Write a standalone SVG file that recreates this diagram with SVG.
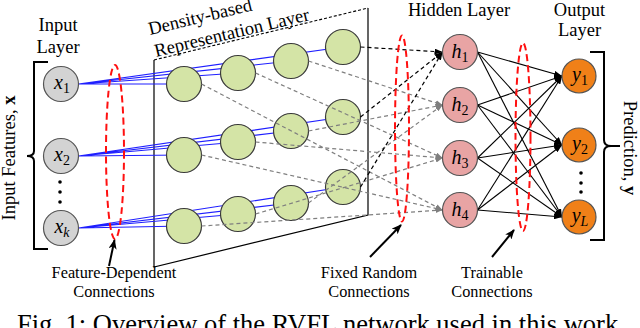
<svg xmlns="http://www.w3.org/2000/svg" width="640" height="328" viewBox="0 0 640 328">
<style>
text{font-family:"Liberation Serif","Times New Roman",serif;fill:#000}
.lbl{font-size:18.5px}
.sm{font-size:16.3px}
.nl{font-size:20px;font-style:italic}
.sub{font-size:14px;font-style:normal}
.subi{font-size:14px;font-style:italic}
.in{fill:#d3d3d3;stroke:#555;stroke-width:1.2}
.gr{fill:#d4e4a6;stroke:#3a3a3a;stroke-width:1.2}
.hd{fill:#e8a4a4;stroke:#555;stroke-width:1.2}
.out{fill:#f08018;stroke:#555;stroke-width:1.2}
.blue{stroke:#1f1fff;stroke-width:1.2;fill:none}
.gd{stroke:#7f7f7f;stroke-width:1.2;stroke-dasharray:4 3;fill:none}
.bd{stroke:#000;stroke-width:1.2;stroke-dasharray:4 3;fill:none}
.bs{stroke:#000;stroke-width:1.1;fill:none}
.red{stroke:#ff1010;stroke-width:2;stroke-dasharray:7 4;fill:none}
.brk{stroke:#000;stroke-width:2;fill:none}
.ptr{stroke:#000;stroke-width:2;fill:none}
</style>
<defs>
<marker id="ag" viewBox="0 0 8 6" refX="8" refY="3" markerWidth="7" markerHeight="5.5" orient="auto" markerUnits="userSpaceOnUse"><path d="M0,0 L8,3 L0,6 z" fill="#7f7f7f"/></marker>
<marker id="ab" viewBox="0 0 8 6" refX="8" refY="3" markerWidth="8" markerHeight="6" orient="auto" markerUnits="userSpaceOnUse"><path d="M0,0 L8,3 L0,6 z" fill="#000"/></marker>
<marker id="al" viewBox="0 0 10 8" refX="9" refY="4" markerWidth="10" markerHeight="8" orient="auto" markerUnits="userSpaceOnUse"><path d="M0,0 L10,4 L0,8 L2.5,4 z" fill="#000"/></marker>
</defs>

<g id="representation-layer-frame">
<path d="M154,60 V267 L368,215 V8" fill="none" stroke="#000" stroke-width="1.2"/>
<path d="M154,60 L368,8" fill="none" stroke="#000" stroke-width="1.1" stroke-dasharray="3 2"/>
<text class="lbl" x="150" y="35" transform="rotate(-13.5 150 35)">Density-based</text>
<text class="lbl" x="156" y="57" transform="rotate(-13.5 156 57)">Representation Layer</text>
</g>

<g id="connectors-feature-dependent">
<path class="blue" d="M78.5,84 L184,84 M78.5,84 L238,73 M78.5,84 L291,61 M78.5,84 L343,47"/>
<path class="blue" d="M78.5,156 L184,155 M78.5,156 L238,142 M78.5,156 L291,131 M78.5,156 L343,117"/>
<path class="blue" d="M78.5,228 L184,226 M78.5,228 L238,214 M78.5,228 L291,203 M78.5,228 L343,187"/>
</g>

<g id="representation-nodes">
<circle class="gr" cx="184" cy="84" r="17.5"/>
<circle class="gr" cx="238" cy="73" r="17.5"/>
<circle class="gr" cx="291" cy="61" r="17.5"/>
<circle class="gr" cx="343" cy="47" r="17.5"/>
<circle class="gr" cx="184" cy="155" r="17.5"/>
<circle class="gr" cx="238" cy="142" r="17.5"/>
<circle class="gr" cx="291" cy="131" r="17.5"/>
<circle class="gr" cx="343" cy="117" r="17.5"/>
<circle class="gr" cx="184" cy="226" r="17.5"/>
<circle class="gr" cx="238" cy="214" r="17.5"/>
<circle class="gr" cx="291" cy="203" r="17.5"/>
<circle class="gr" cx="343" cy="187" r="17.5"/>
</g>

<g id="connectors-random">
<line class="gd" x1="201.5" y1="84" x2="442.5" y2="210" marker-end="url(#ag)"/>
<line class="gd" x1="255.5" y1="73" x2="442.5" y2="158" marker-end="url(#ag)"/>
<line class="gd" x1="308.5" y1="61" x2="442.5" y2="105" marker-end="url(#ag)"/>
<line class="gd" x1="201.5" y1="155" x2="442.5" y2="210" marker-end="url(#ag)"/>
<line class="gd" x1="255.5" y1="142" x2="442.5" y2="158" marker-end="url(#ag)"/>
<line class="gd" x1="308.5" y1="131" x2="442.5" y2="105" marker-end="url(#ag)"/>
<line class="gd" x1="201.5" y1="226" x2="442.5" y2="210" marker-end="url(#ag)"/>
<line class="gd" x1="255.5" y1="214" x2="442.5" y2="158" marker-end="url(#ag)"/>
<line class="gd" x1="308.5" y1="203" x2="442.5" y2="105" marker-end="url(#ag)"/>
<line class="bd" x1="360.5" y1="47" x2="442.5" y2="52" marker-end="url(#ab)"/>
<line class="bd" x1="360.5" y1="117" x2="442.5" y2="52" marker-end="url(#ab)"/>
<line class="bd" x1="360.5" y1="187" x2="442.5" y2="52" marker-end="url(#ab)"/>
</g>

<g id="connectors-trainable">
<line class="bs" x1="477.5" y1="52" x2="562" y2="76" marker-end="url(#ab)"/>
<line class="bs" x1="477.5" y1="52" x2="562" y2="145" marker-end="url(#ab)"/>
<line class="bs" x1="477.5" y1="52" x2="562" y2="217" marker-end="url(#ab)"/>
<line class="bs" x1="477.5" y1="105" x2="562" y2="76" marker-end="url(#ab)"/>
<line class="bs" x1="477.5" y1="105" x2="562" y2="145" marker-end="url(#ab)"/>
<line class="bs" x1="477.5" y1="105" x2="562" y2="217" marker-end="url(#ab)"/>
<line class="bs" x1="477.5" y1="158" x2="562" y2="76" marker-end="url(#ab)"/>
<line class="bs" x1="477.5" y1="158" x2="562" y2="145" marker-end="url(#ab)"/>
<line class="bs" x1="477.5" y1="158" x2="562" y2="217" marker-end="url(#ab)"/>
<line class="bs" x1="477.5" y1="210" x2="562" y2="76" marker-end="url(#ab)"/>
<line class="bs" x1="477.5" y1="210" x2="562" y2="145" marker-end="url(#ab)"/>
<line class="bs" x1="477.5" y1="210" x2="562" y2="217" marker-end="url(#ab)"/>
</g>

<g id="group-markers">
<ellipse class="red" cx="115" cy="152" rx="9" ry="87"/>
<ellipse class="red" cx="402" cy="128.5" rx="7" ry="93"/>
<ellipse class="red" cx="523" cy="137" rx="7.5" ry="94"/>
</g>

<g id="input-layer">
<text class="lbl" x="58" y="31" text-anchor="middle">Input</text>
<text class="lbl" x="58" y="53" text-anchor="middle">Layer</text>
<g id="node-x1"><circle class="in" cx="61" cy="84" r="17.5"/><text class="nl" x="62" y="89" text-anchor="middle">x<tspan class="sub" dy="4">1</tspan></text></g>
<g id="node-x2"><circle class="in" cx="61" cy="156" r="17.5"/><text class="nl" x="62" y="161" text-anchor="middle">x<tspan class="sub" dy="4">2</tspan></text></g>
<g id="input-dots" fill="#000"><circle cx="60" cy="182" r="1.8"/><circle cx="60" cy="192" r="1.8"/><circle cx="60" cy="202" r="1.8"/></g>
<g id="node-xk"><circle class="in" cx="61" cy="228" r="17.5"/><text class="nl" x="62" y="233" text-anchor="middle">x<tspan class="subi" dy="4">k</tspan></text></g>
<path class="brk" d="M48,62 H34 V151 Q34,156 27,156 Q34,156 34,161 V249 H48"/>
<text class="lbl" transform="translate(15 158) rotate(-90)" text-anchor="middle">Input Features, <tspan font-weight="bold">x</tspan></text>
</g>

<g id="hidden-layer">
<text class="lbl" x="459" y="16" text-anchor="middle">Hidden Layer</text>
<g id="node-h1"><circle class="hd" cx="460" cy="52" r="17.5"/><text class="nl" x="460" y="58" text-anchor="middle">h<tspan class="sub" dy="4">1</tspan></text></g>
<g id="node-h2"><circle class="hd" cx="460" cy="105" r="17.5"/><text class="nl" x="460" y="111" text-anchor="middle">h<tspan class="sub" dy="4">2</tspan></text></g>
<g id="node-h3"><circle class="hd" cx="460" cy="158" r="17.5"/><text class="nl" x="460" y="164" text-anchor="middle">h<tspan class="sub" dy="4">3</tspan></text></g>
<g id="node-h4"><circle class="hd" cx="460" cy="210" r="17.5"/><text class="nl" x="460" y="216" text-anchor="middle">h<tspan class="sub" dy="4">4</tspan></text></g>
</g>

<g id="output-layer">
<text class="lbl" x="579.5" y="16" text-anchor="middle">Output</text>
<text class="lbl" x="579.5" y="36" text-anchor="middle">Layer</text>
<g id="node-y1"><circle class="out" cx="579" cy="76" r="17"/><text class="nl" x="580" y="81" text-anchor="middle">y<tspan class="sub" dy="4">1</tspan></text></g>
<g id="node-y2"><circle class="out" cx="579" cy="145" r="17"/><text class="nl" x="580" y="150" text-anchor="middle">y<tspan class="sub" dy="4">2</tspan></text></g>
<g id="output-dots" fill="#000"><circle cx="581" cy="173" r="1.8"/><circle cx="581" cy="183" r="1.8"/><circle cx="581" cy="192" r="1.8"/></g>
<g id="node-yL"><circle class="out" cx="579" cy="217" r="17"/><text class="nl" x="580" y="222" text-anchor="middle">y<tspan class="subi" dy="4">L</tspan></text></g>
<path class="brk" d="M590,52 H604 V140 Q604,146 611,146 Q604,146 604,152 V240 H590 M611,146 H620"/>
<text class="lbl" transform="translate(624 148) rotate(90)" text-anchor="middle">Prediction, <tspan font-weight="bold">y</tspan></text>
</g>

<g id="annotations">
<line class="ptr" x1="109" y1="266" x2="114.5" y2="240" marker-end="url(#al)"/>
<text class="sm" x="114" y="278" text-anchor="middle">Feature-Dependent</text>
<text class="sm" x="114" y="297" text-anchor="middle">Connections</text>
<line class="ptr" x1="370" y1="257" x2="401" y2="225" marker-end="url(#al)"/>
<text class="sm" x="369" y="278" text-anchor="middle">Fixed Random</text>
<text class="sm" x="369" y="297" text-anchor="middle">Connections</text>
<line class="ptr" x1="492" y1="257" x2="514" y2="230" marker-end="url(#al)"/>
<text class="sm" x="492" y="278" text-anchor="middle">Trainable</text>
<text class="sm" x="492" y="297" text-anchor="middle">Connections</text>
</g>

<text id="caption" x="17" y="333" style="font-size:26.5px">Fig. 1: Overview of the RVFL network used in this work</text>
</svg>
